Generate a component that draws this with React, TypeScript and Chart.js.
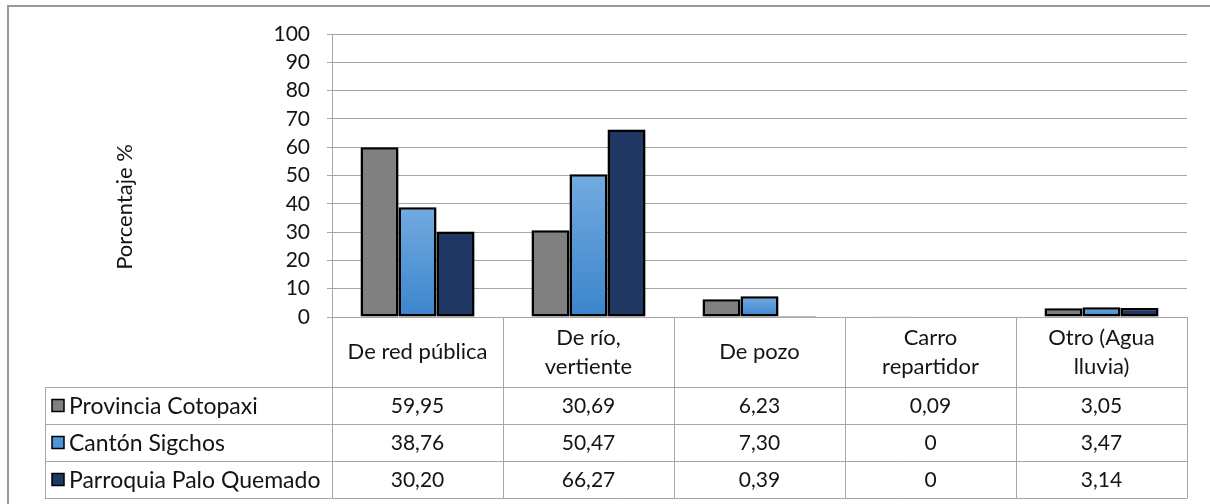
import React, { useEffect, useRef } from "react";
import { Chart, registerables } from "chart.js";

Chart.register(...registerables);

// ---- data ----
const categories: string[][] = [
  ["De red pública"],
  ["De río,", "vertiente"],
  ["De pozo"],
  ["Carro", "repartidor"],
  ["Otro (Agua", "lluvia)"],
];
const seriesNames = ["Provincia Cotopaxi", "Cantón Sigchos", "Parroquia Palo Quemado"];
const provinciaValues = [59.95, 30.69, 6.23, 0.09, 3.05];
const cantonValues = [38.76, 50.47, 7.3, 0, 3.47];
const parroquiaValues = [30.2, 66.27, 0.39, 0, 3.14];
const yMin = 0;
const yMax = 100;
const yStep = 10;
const yTitle = "Porcentaje %";

// ---- styles ----
const FONT = "Lato";
const TEXT = "#141414";
const GRID = "#a6a6a6";
const GRAY = "#808080";
const BLUE_TOP = "#73aae0";
const BLUE_BOTTOM = "#3b85cc";
const NAVY = "#1f3763";

const seriesValues = [provinciaValues, cantonValues, parroquiaValues];

const fmt = (v: number) => (v === 0 ? "0" : v.toFixed(2).replace(".", ","));

function blueFill(context: any) {
  const chart = context.chart;
  const y = chart.scales && chart.scales.y;
  const raw = context.raw;
  if (!y || typeof raw !== "number") return BLUE_BOTTOM;
  const top = y.getPixelForValue(raw);
  const bottom = y.getPixelForValue(0);
  if (!(bottom - top > 1)) return BLUE_BOTTOM;
  const g = chart.ctx.createLinearGradient(0, top, 0, bottom);
  g.addColorStop(0, BLUE_TOP);
  g.addColorStop(1, BLUE_BOTTOM);
  return g;
}

const legendFills = [GRAY, "#4f95d8", NAVY];

const shadowPlugin = {
  id: "barShadow",
  beforeDatasetsDraw(chart: any) {
    const ctx = chart.ctx;
    ctx.save();
    ctx.shadowColor = "rgba(0,0,0,0.35)";
    ctx.shadowBlur = 7;
    ctx.shadowOffsetX = 2;
    ctx.shadowOffsetY = 2;
  },
  afterDatasetsDraw(chart: any) {
    chart.ctx.restore();
  },
};

const tablePlugin = {
  id: "dataTable",
  afterDraw(chart: any) {
    const { ctx, chartArea: a } = chart;
    const n = categories.length;
    const colW = (a.right - a.left) / n;
    const catTop = a.bottom;
    const catBottom = catTop + 70;
    const rowH = 37;
    const tableBottom = catBottom + rowH * seriesValues.length;
    const legendLeft = 45;

    ctx.save();
    // outer frame
    ctx.strokeStyle = "#9a9a9a";
    ctx.lineWidth = 2;
    ctx.beginPath();
    ctx.moveTo(8, chart.height + 2);
    ctx.lineTo(8, 6);
    ctx.lineTo(chart.width + 2, 6);
    ctx.stroke();

    // table lines
    ctx.strokeStyle = GRID;
    ctx.lineWidth = 1;
    ctx.beginPath();
    for (let i = 0; i <= n; i++) {
      const x = Math.round(a.left + colW * i) + 0.5;
      ctx.moveTo(x, catTop);
      ctx.lineTo(x, tableBottom);
    }
    ctx.moveTo(legendLeft + 0.5, catBottom);
    ctx.lineTo(legendLeft + 0.5, tableBottom);
    for (let r = 0; r <= seriesValues.length; r++) {
      const y = Math.round(catBottom + rowH * r) + 0.5;
      ctx.moveTo(legendLeft, y);
      ctx.lineTo(a.right + 0.5, y);
    }
    ctx.stroke();

    ctx.fillStyle = TEXT;
    ctx.font = `22px ${FONT}`;
    ctx.textAlign = "center";
    ctx.textBaseline = "middle";
    // category labels
    categories.forEach((lines, i) => {
      const cx = a.left + colW * (i + 0.5);
      const mid = (catTop + catBottom) / 2;
      const lh = 29;
      lines.forEach((t, k) => {
        ctx.fillText(t, cx, mid + (k - (lines.length - 1) / 2) * lh);
      });
    });
    // rows
    seriesValues.forEach((vals, r) => {
      const cy = catBottom + rowH * (r + 0.5);
      ctx.textAlign = "center";
      ctx.fillStyle = TEXT;
      ctx.font = `21px ${FONT}`;
      vals.forEach((v, i) => {
        ctx.fillText(fmt(v), a.left + colW * (i + 0.5), cy + 1);
      });
      // legend swatch
      ctx.fillStyle = legendFills[r];
      ctx.fillRect(52, cy - 6, 12, 12);
      ctx.strokeStyle = "#000";
      ctx.lineWidth = 1.5;
      ctx.strokeRect(52, cy - 6, 12, 12);
      ctx.fillStyle = TEXT;
      ctx.textAlign = "left";
      ctx.font = `23px ${FONT}`;
      ctx.fillText(seriesNames[r], 69, cy + 1);
    });

    // y axis title
    ctx.save();
    ctx.translate(125, 207);
    ctx.rotate(-Math.PI / 2);
    ctx.textAlign = "center";
    ctx.textBaseline = "middle";
    ctx.fillStyle = TEXT;
    ctx.font = `22px ${FONT}`;
    ctx.fillText(yTitle, 0, 0);
    ctx.restore();

    ctx.restore();
  },
};

export default function App() {
  const ref = useRef<HTMLCanvasElement | null>(null);
  useEffect(() => {
    if (!ref.current) return;
    const chart = new Chart(ref.current, {
      type: "bar",
      data: {
        labels: categories.map((c) => c.join(" ")),
        datasets: [
          {
            label: seriesNames[0],
            data: provinciaValues,
            backgroundColor: GRAY,
          },
          {
            label: seriesNames[1],
            data: cantonValues,
            backgroundColor: blueFill as any,
          },
          {
            label: seriesNames[2],
            data: parroquiaValues,
            backgroundColor: NAVY,
          },
        ].map((d) => ({
          ...d,
          borderColor: "#000",
          borderWidth: 2.5,
          borderSkipped: false as any,
          barPercentage: 1,
          categoryPercentage: 114 / 171,
        })),
      },
      options: {
        animation: false,
        responsive: true,
        maintainAspectRatio: false,
        layout: { padding: { left: 0, top: 34, right: 23, bottom: 187 } },
        plugins: { legend: { display: false }, tooltip: { enabled: false }, title: { display: false } },
        scales: {
          x: { display: false, offset: true },
          y: {
            min: yMin,
            max: yMax,
            ticks: { stepSize: yStep, padding: 17, color: TEXT, font: { family: FONT, size: 21 } },
            grid: { color: GRID, lineWidth: 1, tickLength: 5, drawTicks: true },
            border: { color: GRID, width: 1 },
            afterFit: (s: any) => {
              s.width = 332;
            },
          },
        },
      },
      plugins: [shadowPlugin, tablePlugin],
    });
    return () => chart.destroy();
  }, []);
  return (
    <div style={{ position: "fixed", left: 0, top: 0, width: 1210, height: 504, background: "#fff" }}>
      <canvas ref={ref} />
    </div>
  );
}
